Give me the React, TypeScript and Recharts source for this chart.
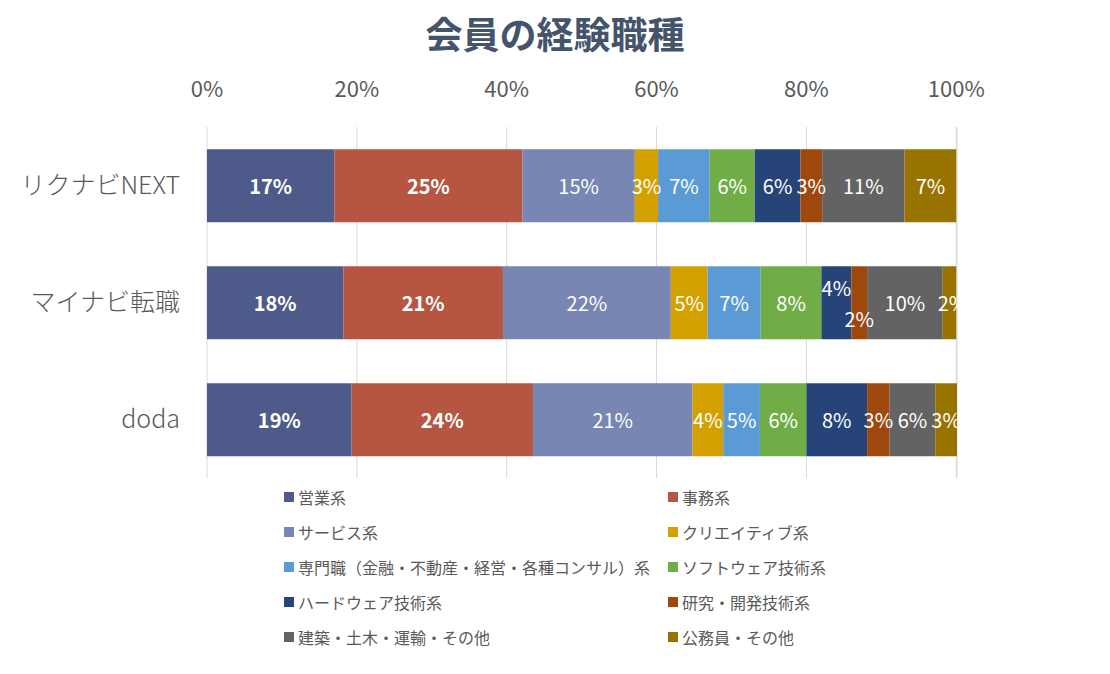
import React from 'react';
import { BarChart, Bar, XAxis, YAxis, CartesianGrid, LabelList } from 'recharts';

// categories (rows)
const categories = ['リクナビNEXT', 'マイナビ転職', 'doda'];

// series values in % per row
const eigyo = [17.0, 18.2, 19.3];
const jimu = [25.1, 21.3, 24.2];
const service = [15.0, 22.4, 21.3];
const creative = [3.1, 4.9, 4.1];
const senmon = [6.9, 7.1, 4.9];
const software = [6.0, 8.1, 6.2];
const hardware = [6.1, 4.0, 8.1];
const kenkyu = [2.9, 2.1, 3.0];
const kenchiku = [11.0, 10.1, 6.1];
const koumuin = [6.9, 1.8, 2.9];

const seriesNames = [
  '営業系',
  '事務系',
  'サービス系',
  'クリエイティブ系',
  '専門職（金融・不動産・経営・各種コンサル）系',
  'ソフトウェア技術系',
  'ハードウェア技術系',
  '研究・開発技術系',
  '建築・土木・運輸・その他',
  '公務員・その他',
];
const seriesValues = [eigyo, jimu, service, creative, senmon, software, hardware, kenkyu, kenchiku, koumuin];
const colors = ['#4E5B8A', '#B55542', '#7786B2', '#D4A000', '#5B9BD5', '#70AD47', '#264478', '#9E480E', '#636363', '#997300'];
const xTicks = [0, 20, 40, 60, 80, 100];

const FONT = '"Noto Sans CJK JP", "Noto Sans", sans-serif';

const data = categories.map((name, i) => {
  const row: Record<string, string | number> = { name };
  seriesValues.forEach((vals, s) => {
    row['s' + s] = vals[i];
  });
  return row;
});

// Excel nudged a few crowded labels
const labelNudge: Record<string, [number, number]> = { '6-1': [0, -15], '7-1': [0, 16], '9-1': [3, 0] };

const makeLabel = (s: number) => (props: any) => {
  const { x, y, width, height, value, index } = props;
  const [dx, dy] = labelNudge[`${s}-${index}`] || [0, 0];
  return (
    <text
      x={Number(x) + Number(width) / 2 + dx}
      y={Number(y) + Number(height) / 2 + dy}
      fill="#ffffff"
      textAnchor="middle"
      dominantBaseline="central"
      fontSize={20}
      fontWeight={s < 2 ? 700 : 400}
      fontFamily={FONT}
    >
      {Math.round(Number(value))}%
    </text>
  );
};

const Legend2 = () => (
  <div
    style={{
      position: 'absolute',
      left: 284,
      top: 486,
      display: 'grid',
      gridTemplateColumns: '384px 300px',
      rowGap: 13,
      fontFamily: FONT,
      fontSize: 16,
      color: '#595959',
    }}
  >
    {seriesNames.map((n, i) => (
      <div key={n} style={{ display: 'flex', alignItems: 'center', height: 22, whiteSpace: 'nowrap' }}>
        <span style={{ width: 10, height: 10, background: colors[i], marginRight: 4, display: 'inline-block' }} />
        {n}
      </div>
    ))}
  </div>
);

export default function App() {
  return (
    <div style={{ position: 'absolute', left: 0, top: 0, width: 1110, height: 674, background: '#fff' }}>
      <div
        style={{
          position: 'absolute',
          top: 8,
          left: 0,
          width: 1110,
          textAlign: 'center',
          fontFamily: FONT,
          fontWeight: 700,
          fontSize: 37,
          color: '#44546A',
          lineHeight: '50px',
        }}
      >
        会員の経験職種
      </div>
      <BarChart
        width={1110}
        height={674}
        data={data}
        layout="vertical"
        barCategoryGap="19%"
        margin={{ top: 60, right: 153, bottom: 196, left: 0 }}
      >
        <CartesianGrid horizontal={false} stroke="#d9d9d9" />
        <XAxis
          type="number"
          orientation="top"
          domain={[0, 100]}
          ticks={xTicks}
          tickFormatter={(v) => `${v}%`}
          axisLine={false}
          tickLine={false}
          tickSize={0}
          tickMargin={30}
          height={67}
          tick={{ fill: '#595959', fontSize: 22, fontFamily: FONT }}
          interval={0}
        />
        <YAxis
          type="category"
          dataKey="name"
          width={207}
          axisLine={false}
          tickLine={false}
          tickSize={0}
          tickMargin={27}
          tick={{ fill: '#595959', fontSize: 25, fontFamily: FONT, fontWeight: 300 }}
        />
        {seriesNames.map((n, s) => (
          <Bar key={n} dataKey={'s' + s} name={n} stackId="a" fill={colors[s]} isAnimationActive={false}>
            <LabelList dataKey={'s' + s} content={makeLabel(s)} />
          </Bar>
        ))}
      </BarChart>
      <Legend2 />
    </div>
  );
}
